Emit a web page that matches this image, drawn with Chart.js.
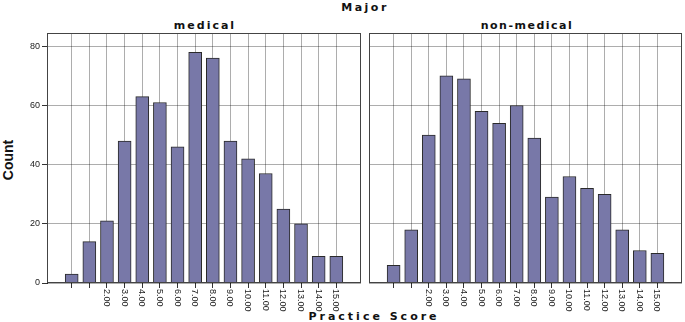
<!DOCTYPE html>
<html>
<head>
    <title>Practice Score by Major</title>
    <script src="https://cdn.jsdelivr.net/npm/chart.js"></script>
    <style>
        body { margin: 0; background: #fff; }
        #wrap { position: relative; width: 685px; height: 322px; overflow: hidden; }
        .ttl {
            position: absolute;
            font-family: "DejaVu Sans", sans-serif;
            font-weight: bold;
            font-size: 11px;
            line-height: 13px;
            color: #111;
            white-space: nowrap;
            transform: translateX(-50%);
        }
        #countTitle {
            position: absolute;
            left: 8px;
            top: 160px;
            font-family: "Liberation Sans", Arial, sans-serif;
            font-weight: bold;
            font-size: 14px;
            line-height: 14px;
            color: #111;
            white-space: nowrap;
            transform: translate(-50%, -50%) rotate(-90deg);
        }
        #leftChart { position: absolute; left: 0; top: 32px; }
        #rightChart { position: absolute; left: 365px; top: 32px; }
    </style>
</head>
<body>
<div id="wrap">
    <div class="ttl" style="left:365px; top:1px; letter-spacing:2.5px;">Major</div>
    <div class="ttl" style="left:205px; top:19px; letter-spacing:2px;">medical</div>
    <div class="ttl" style="left:527px; top:19px; letter-spacing:1.5px;">non-medical</div>
    <div class="ttl" style="left:374px; top:310px; letter-spacing:3px;">Practice Score</div>
    <div id="countTitle">Count</div>
    <canvas id="leftChart" width="365" height="290"></canvas>
    <canvas id="rightChart" width="320" height="290"></canvas>
</div>

<script>
    // practice score categories and counts per major
    var scores = [0, 1, 2, 3, 4, 5, 6, 7, 8, 9, 10, 11, 12, 13, 14, 15];
    var scoreLabels = ['', '', '2.00', '3.00', '4.00', '5.00', '6.00', '7.00', '8.00',
                       '9.00', '10.00', '11.00', '12.00', '13.00', '14.00', '15.00'];
    var medicalCounts = [3, 14, 21, 48, 63, 61, 46, 78, 76, 48, 42, 37, 25, 20, 9, 9];
    var nonMedicalCounts = [6, 18, 50, 70, 69, 58, 54, 60, 49, 29, 36, 32, 30, 18, 11, 10];
    var yTicks = [0, 20, 40, 60, 80];

    var barFill = '#7878a8';
    var gridGray = 'rgba(0,0,0,0.32)';

    // box around each panel
    var panelBorder = {
        id: 'panelBorder',
        afterDraw: function(chart) {
            var a = chart.chartArea, c = chart.ctx;
            c.save();
            c.strokeStyle = '#444';
            c.lineWidth = 1;
            c.strokeRect(Math.round(a.left) + 0.5, Math.round(a.top) + 0.5,
                         Math.round(a.right - a.left) - 1, Math.round(a.bottom - a.top) - 1);
            c.restore();
        }
    };

    // x labels turned clockwise (read top to bottom), chart.js only turns the other way
    var rotatedTickLabels = {
        id: 'rotatedTickLabels',
        afterDraw: function(chart) {
            var xs = chart.scales.x, c = chart.ctx;
            c.save();
            c.font = '9px "Liberation Sans"';
            c.fillStyle = '#222';
            c.textAlign = 'left';
            c.textBaseline = 'middle';
            scores.forEach(function(s, i) {
                c.save();
                c.translate(Math.round(xs.getPixelForValue(s)) - 1, xs.top + 6);
                c.rotate(Math.PI / 2);
                c.fillText(scoreLabels[i], 0, 0);
                c.restore();
            });
            c.restore();
        }
    };

    function makePanel(canvasId, counts, showY, padding) {
        var ctx = document.getElementById(canvasId).getContext('2d');
        return new Chart(ctx, {
            type: 'bar',
            data: {
                datasets: [{
                    data: scores.map((s, i) => ({ x: s, y: counts[i] })),
                    backgroundColor: barFill,
                    borderColor: '#2a2a2a',
                    borderWidth: 1,
                    barThickness: 13
                }]
            },
            options: {
                responsive: false,
                animation: false,
                layout: { padding: padding },
                plugins: {
                    legend: { display: false },
                    tooltip: { enabled: false }
                },
                scales: {
                    x: {
                        type: 'linear',
                        min: -1.4,
                        max: 16.4,
                        offset: false,
                        afterBuildTicks: function(axis) {
                            axis.ticks = scores.map(v => ({ value: v }));
                        },
                        afterFit: function(axis) {
                            axis.height = 39;
                            axis.paddingLeft = 0;
                            axis.paddingRight = 0;
                        },
                        grid: {
                            color: gridGray,
                            drawTicks: true,
                            tickLength: 5,
                            tickColor: '#333',
                            offset: false
                        },
                        border: { display: false },
                        ticks: { display: false }
                    },
                    y: {
                        min: 0,
                        max: 84.5,
                        afterBuildTicks: function(axis) {
                            axis.ticks = yTicks.map(v => ({ value: v }));
                        },
                        afterFit: function(axis) {
                            axis.width = showY ? 47 : 0;
                            axis.paddingTop = 0;
                            axis.paddingBottom = 0;
                        },
                        grid: {
                            color: gridGray,
                            drawTicks: showY,
                            tickLength: 5,
                            tickColor: '#333'
                        },
                        border: { display: showY, color: '#222' },
                        ticks: {
                            display: showY,
                            padding: 2,
                            color: '#222',
                            font: { family: 'Liberation Sans', size: 9 }
                        }
                    }
                }
            },
            plugins: [panelBorder, rotatedTickLabels]
        });
    }

    var leftPanel = makePanel('leftChart', medicalCounts, true, { top: 1, right: 4, left: 0, bottom: 0 });
    var rightPanel = makePanel('rightChart', nonMedicalCounts, false, { top: 1, right: 3, left: 4, bottom: 0 });
</script>
</body>
</html>
